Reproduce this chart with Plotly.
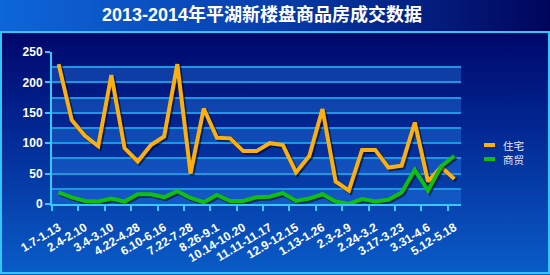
import base64
import plotly.graph_objects as go

# ---------------- data ----------------
tick_labels = ["1.7-1.13", "2.4-2.10", "3.4-3.10", "4.22-4.28", "6.10-6.16", "7.22-7.28",
               "8.26-9.1", "10.14-10.20", "11.11-11.17", "12.9-12.15", "1.13-1.26", "2.3-2.9",
               "2.24-3.2", "3.17-3.23", "3.31-4.6", "5.12-5.18"]
residential = [230, 138, 112, 95, 212, 92, 70, 97, 111, 230, 50, 157, 109, 108, 87, 87,
               100, 97, 52, 79, 156, 37, 22, 89, 89, 60, 63, 134, 37, 61, 41]
commercial = [19, 11, 5, 4, 9, 4, 16, 16, 11, 21, 10, 3, 15, 5, 5, 11,
              12, 18, 5, 9, 16, 4, 0, 8, 4, 7, 19, 56, 22, 62, 79]
series_names = ["住宅", "商贸"]

# ---------------- geometry ----------------
W, H = 550, 275
ML, MR, MT, MB = 52, 89, 52, 71
PW, PH = W - ML - MR, H - MT - MB

def px_x(px):
    return (px - ML) / PW

def px_y(py):
    return 1 - (py - MT) / PH

idx = list(range(len(residential)))
n = len(idx)

FONT = "Liberation Sans, Arial, Noto Sans CJK SC, sans-serif"
ORANGE = "#fbb00f"
GREEN = "#10c010"

fig = go.Figure()

def add_series(vals, color, name):
    fig.add_trace(go.Scatter(x=[i + 0.12 for i in idx], y=[v - 2.5 for v in vals], mode="lines",
                             line=dict(color="rgba(0,0,25,0.55)", width=4.5),
                             hoverinfo="skip", showlegend=False))
    fig.add_trace(go.Scatter(x=idx, y=vals, mode="lines", name=name,
                             line=dict(color=color, width=4), showlegend=False))

add_series(residential, ORANGE, series_names[0])
add_series(commercial, GREEN, series_names[1])

# ---------------- background (svg) ----------------
svg = f"""<svg xmlns='http://www.w3.org/2000/svg' width='{W}' height='{H}' viewBox='0 0 {W} {H}' preserveAspectRatio='none'>
<defs>
<linearGradient id='t' x1='0' y1='0' x2='1' y2='0'>
<stop offset='0' stop-color='#0e66d8'/><stop offset='0.45' stop-color='#0842b2'/><stop offset='1' stop-color='#00055c'/></linearGradient>
<linearGradient id='p' x1='0' y1='0' x2='0' y2='1'>
<stop offset='0' stop-color='#00076a'/><stop offset='0.35' stop-color='#02238e'/><stop offset='1' stop-color='#095cc8'/></linearGradient>
</defs>
<rect x='0' y='0' width='{W}' height='{H}' fill='#095cc8'/>
<rect x='0' y='0' width='{W}' height='31' fill='url(#t)'/>
<rect x='1' y='32' width='{W-2}' height='{H-34}' fill='url(#p)' stroke='#32c6f6' stroke-width='2'/>
</svg>"""
src = "data:image/svg+xml;base64," + base64.b64encode(svg.encode()).decode()

fig.add_layout_image(dict(source=src, xref="paper", yref="paper",
                          x=-ML / PW, y=1 + MT / PH, sizex=W / PW, sizey=H / PH,
                          xanchor="left", yanchor="top", sizing="stretch", layer="below"))

# alternating bands
for lo in range(0, 250, 50):
    fig.add_shape(type="rect", xref="paper", yref="y", x0=0, x1=1, y0=lo, y1=lo + 25,
                  fillcolor="rgba(40,125,235,0.38)", line_width=0, layer="below")

# manual legend
for k, (nm, col) in enumerate(zip(series_names, [ORANGE, GREEN])):
    yy = 145 + k * 14
    fig.add_shape(type="line", xref="paper", yref="paper",
                  x0=px_x(484), x1=px_x(495), y0=px_y(yy), y1=px_y(yy),
                  line=dict(color=col, width=4))
    fig.add_annotation(text=nm, xref="paper", yref="paper", x=px_x(502), y=px_y(yy),
                       xanchor="left", yanchor="middle", showarrow=False, borderpad=0,
                       font=dict(family="Noto Sans CJK SC, sans-serif", size=10.5, color="#e4e6ff"))

fig.update_layout(
    width=W, height=H,
    margin=dict(l=ML, r=MR, t=MT, b=MB, pad=0, autoexpand=False),
    paper_bgcolor="#095cc8",
    plot_bgcolor="rgba(0,0,0,0)",
    showlegend=False,
    title=dict(text="2013-2014年平湖新楼盘商品房成交数据", x=262 / W, xanchor="center",
               y=1 - 15 / H, yanchor="middle",
               font=dict(family="Liberation Sans, Noto Sans CJK SC, sans-serif", size=18,
                         color="white", weight="bold")),
    xaxis=dict(range=[-0.5, n - 0.5], tickmode="array", tickvals=idx[::2], ticktext=tick_labels,
               tickangle=-31, ticks="", showgrid=False, zeroline=False, ticklabelstandoff=10,
               automargin=False,
               showline=True, linecolor="#38c8f8", linewidth=2,
               tickfont=dict(family=FONT, size=12, color="white", weight="bold"),
               minor=dict(tickmode="array", tickvals=[i - 0.5 for i in idx[::2]],
                          ticks="outside", ticklen=5, tickwidth=2, tickcolor="#38c8f8",
                          showgrid=False)),
    yaxis=dict(range=[0, 250], tickmode="linear", tick0=0, dtick=50, automargin=False,
               ticks="outside", ticklen=5, tickwidth=2, tickcolor="#38c8f8",
               showgrid=True, gridcolor="#1d96e4", gridwidth=1.5, zeroline=False,
               showline=True, linecolor="#38c8f8", linewidth=2,
               tickfont=dict(family=FONT, size=12, color="white", weight="bold"),
               minor=dict(dtick=25, showgrid=True, gridcolor="#1d96e4", gridwidth=1.5, ticks="")),
)

fig.write_html("out.html")
